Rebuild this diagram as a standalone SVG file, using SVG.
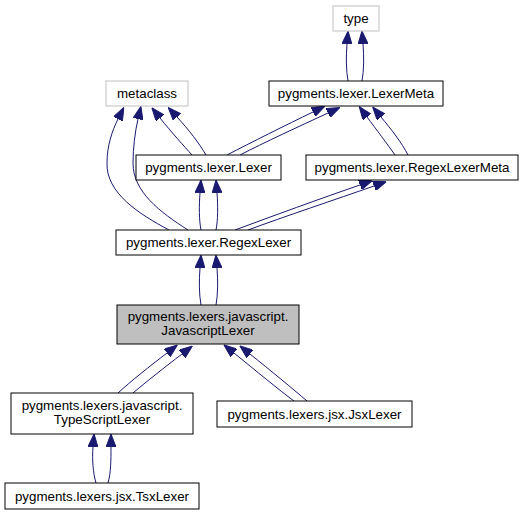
<svg xmlns="http://www.w3.org/2000/svg" width="525" height="515" viewBox="0 0 525 515">
<style>
.box{fill:#ffffff;stroke:#000000;stroke-width:1}
.ext{fill:#ffffff;stroke:#bfbfbf;stroke-width:1}
.cur{fill:#bfbfbf;stroke:#000000;stroke-width:1}
text{font-family:"Liberation Sans",Arial,sans-serif;font-size:13.33px;text-anchor:middle;fill:#000000}
.e{fill:none;stroke:#191970;stroke-width:1;marker-end:url(#arr)}
</style>
<defs>
<marker id="arr" markerUnits="userSpaceOnUse" viewBox="0 0 13 10" markerWidth="13" markerHeight="10" refX="0" refY="5" orient="auto">
<path d="M0,0 L13,5 L0,10 Z" fill="#191970" stroke="#191970" stroke-width="1"/>
</marker>
</defs>
<rect width="525" height="515" fill="#ffffff"/>
<g id="edges">
<path class="e" d="M348,81 C346,70 346,56 347,44"/>
<path class="e" d="M362,81 C364,70 364,56 363,44"/>
<path class="e" d="M192,155 C184,146 172,133 160,118"/>
<path class="e" d="M206,155 C199,143 189,130 177,117"/>
<path class="e" d="M169,230 C139,214 106,193 107,163 C107,146 112,131 118,119"/>
<path class="e" d="M188,230 C160,212 133,192 133,163 C133,148 135,132 138,119"/>
<path class="e" d="M227,155 C250,143 286,125 313,112"/>
<path class="e" d="M240,155 C263,143 300,126 328,113"/>
<path class="e" d="M395,155 C388,145 376,129 367,117"/>
<path class="e" d="M408,155 C402,143 391,129 381,117"/>
<path class="e" d="M201,230 C199,220 199,206 200,193"/>
<path class="e" d="M216,230 C218,220 218,206 217,193"/>
<path class="e" d="M235,230 C270,217 322,198 360,185"/>
<path class="e" d="M248,230 C283,217 337,199 374,186"/>
<path class="e" d="M201,305 C199,294 199,280 200,268"/>
<path class="e" d="M216,305 C218,294 218,280 217,268"/>
<path class="e" d="M118,393 C131,381 150,366 167,353"/>
<path class="e" d="M133,393 C146,382 165,367 182,354"/>
<path class="e" d="M294,401 C279,390 255,370 234,353"/>
<path class="e" d="M307,401 C293,389 270,370 250,354"/>
<path class="e" d="M96,483 C93,473 92,459 93,447"/>
<path class="e" d="M108,483 C111,473 111,459 111,447"/>
</g>
<g id="node-type"><rect class="ext" x="333" y="6" width="46" height="25"/><text x="356" y="23">type</text></g>
<g id="node-metaclass"><rect class="ext" x="106" y="81" width="82" height="25"/><text x="147" y="98">metaclass</text></g>
<g id="node-LexerMeta"><rect class="box" x="269" y="81" width="174" height="25"/><text x="356" y="98">pygments.lexer.LexerMeta</text></g>
<g id="node-Lexer"><rect class="box" x="136" y="155" width="145" height="25"/><text x="208.5" y="172">pygments.lexer.Lexer</text></g>
<g id="node-RegexLexerMeta"><rect class="box" x="306" y="155" width="212" height="25"/><text x="412" y="172">pygments.lexer.RegexLexerMeta</text></g>
<g id="node-RegexLexer"><rect class="box" x="116" y="230" width="185" height="25"/><text x="208.5" y="247">pygments.lexer.RegexLexer</text></g>
<g id="node-JavascriptLexer"><rect class="cur" x="117" y="305" width="182" height="39"/><text x="208" y="321">pygments.lexers.javascript.</text><text x="208" y="335">JavascriptLexer</text></g>
<g id="node-TypeScriptLexer"><rect class="box" x="11" y="393" width="182" height="41"/><text x="102" y="410">pygments.lexers.javascript.</text><text x="102" y="424">TypeScriptLexer</text></g>
<g id="node-JsxLexer"><rect class="box" x="217" y="401" width="195" height="26"/><text x="314.5" y="418.5">pygments.lexers.jsx.JsxLexer</text></g>
<g id="node-TsxLexer"><rect class="box" x="5" y="483" width="194" height="26"/><text x="102" y="500.5">pygments.lexers.jsx.TsxLexer</text></g>
</svg>
